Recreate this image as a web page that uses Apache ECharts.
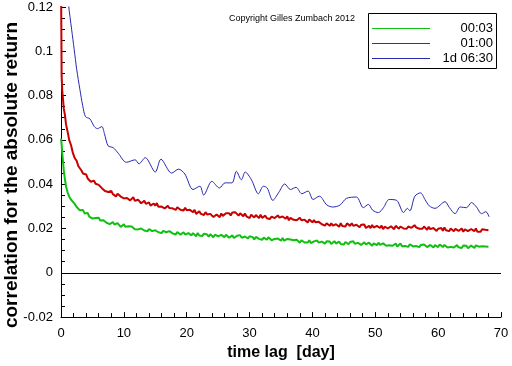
<!DOCTYPE html>
<html><head><meta charset="utf-8">
<script src="https://cdn.jsdelivr.net/npm/echarts@6/dist/echarts.min.js"></script>
<style>html,body{margin:0;padding:0;background:#fff}#c{width:512px;height:366px}</style>
</head><body><div id="c"></div>
<script>
const seriesNames = ['00:03', '01:00', '1d 06:30'];
const seriesColors = ['#10c010', '#c80000', '#2828b0'];
const yTicks = [-0.02, 0, 0.02, 0.04, 0.06, 0.08, 0.1, 0.12];
const xTicks = [0, 10, 20, 30, 40, 50, 60, 70];

// values are in units of 1e-4
const lagHead = [0, 0.1, 0.2, 0.3, 0.45, 0.64, 0.8, 1.06, 1.3, 1.6, 1.9, 2.2];
const greenHead = [606, 580, 540, 510, 460, 420, 390, 362, 345, 330, 320, 310];
const redHead = [1350, 890, 820, 790, 740, 710, 670, 636, 600, 576, 540, 517];
// from lag 2.5 to 68 day, sampled every 0.25 day
const lagTailStart = 2.5, lagTailStep = 0.25;
const greenTail = [
 297,299,282,284,283,268,267,270,254,258,245,253,247,238,249,236,230,237,237,226,
 232,220,226,229,218,214,224,217,207,216,219,208,202,210,202,209,212,197,202,196,
 193,200,202,191,195,187,198,200,188,185,192,196,183,192,179,189,191,183,180,188,
 188,178,183,173,184,182,172,178,183,173,167,179,176,169,179,171,165,180,168,175,
 166,177,168,173,163,174,169,161,172,173,164,159,171,168,161,172,164,158,167,169,
 157,165,167,158,170,158,154,164,161,155,165,157,161,150,162,164,153,158,149,159,
 157,149,160,151,147,156,153,144,155,152,145,157,145,142,153,146,150,141,147,142,
 149,141,136,147,148,137,143,137,147,134,140,142,133,146,136,130,141,139,132,142,
 133,141,130,138,143,132,134,141,130,138,128,139,136,129,139,132,142,131,128,135,
 136,126,133,138,128,125,136,129,122,133,132,125,136,126,122,133,128,122,130,124,
 131,122,125,132,119,128,132,120,126,121,128,117,129,124,119,128,121,126,116,126,
 118,128,123,116,125,126,118,114,125,123,116,128,119,116,126,121,114,123,117,125,
 114,121,125,115,121,112,123,116,122,111,118,123,114,112,124,116,118,110,120,113,
 119,112,118];
const redTail = [
 505,482,481,462,448,449,444,426,426,411,418,416,402,394,397,400,382,382,369,378,
 365,370,370,355,358,345,357,350,344,352,336,344,338,343,327,336,341,325,325,330,
 327,314,321,325,311,313,318,303,312,313,303,315,298,304,299,308,291,300,302,292,
 301,291,294,284,296,297,285,290,281,294,282,275,285,282,273,284,266,274,278,266,
 272,261,274,263,258,266,268,252,260,263,254,251,268,257,264,269,260,269,259,272,
 263,273,265,258,269,264,255,268,255,261,247,262,256,250,261,252,247,262,248,255,
 258,246,253,243,254,257,247,244,259,249,243,254,252,244,255,237,248,251,239,244,
 237,246,249,237,232,240,242,227,241,234,228,238,228,222,230,234,219,224,213,224,
 221,212,223,213,206,219,215,208,224,211,217,209,223,220,212,224,212,205,217,214,
 206,217,208,218,202,210,212,202,216,204,199,212,208,202,213,197,208,211,200,206,
 210,202,197,212,207,199,209,214,200,207,199,209,212,203,198,215,205,211,199,207,
 199,209,203,194,208,197,194,202,205,189,199,195,202,190,205,192,196,188,200,198,
 188,198,202,189,191,200,185,196,197,188,185,198,193,188,200,185,191,185,197,188,
 194,185,192];

const lagBlue = [1.1, 1.2, 1.7, 2.1, 2.5, 3.0, 3.45, 3.9, 4.6, 5.3, 5.8, 6.5, 6.9, 7.5, 8.3, 9.1, 10.4, 11.8, 12.4, 13.4, 15.0, 15.9, 17.6, 18.7, 19.7,
 21.0, 22.1, 22.7, 24.0, 25.2, 26.1, 27.2, 27.9, 28.7, 29.3, 30.3, 31.4, 32.2, 32.8, 33.7, 34.6, 35.6, 36.5, 37.4, 38.3, 39.3, 40.1,
 41.1, 42.3, 43.3, 44.4, 45.4, 47.0, 48.1, 48.9, 49.6, 50.5, 51.3, 52.2, 53.4, 54.5, 55.1, 55.5, 56.3, 57.2, 57.9, 58.6, 59.5,
 61.1, 61.8, 62.7, 63.5, 64.5, 65.3, 66.1, 66.9, 67.6, 68.1];
const blue = [1260, 1210, 1097, 1008, 918, 829, 755, 705, 695, 660, 651, 660, 629, 573, 565, 540, 499, 510, 492, 520, 455, 513, 450, 468, 446,
 376, 391, 351, 413, 383, 406, 406, 458, 420, 455, 420, 357, 391, 383, 327, 361, 401, 376, 386, 357, 369, 331,
 346, 306, 297, 306, 336, 342, 294, 309, 282, 272, 294, 331, 327, 272, 291, 280, 346, 361, 331, 302, 291,
 321, 294, 267, 297, 294, 317, 297, 267, 276, 253];

const UNIT = 1e-4;
const lagTail = redTail.map((_, i) => lagTailStart + i * lagTailStep);
const mk = (lags, vals) => lags.map((x, i) => [x, vals[i] * UNIT]);
const seriesData = [
  mk(lagHead.concat(lagTail), greenHead.concat(greenTail)),
  mk(lagHead.concat(lagTail), redHead.concat(redTail)),
  mk(lagBlue, blue)
];

const FONT = '"Liberation Sans", Arial, sans-serif';
const chart = echarts.init(document.getElementById('c'), null, {renderer: 'canvas'});

const legendGraphics = [{
  id: 'lgbox', type: 'rect', shape: {x: 368.5, y: 13.5, width: 128, height: 55},
  style: {fill: '#fff', stroke: '#000', lineWidth: 1}, z: 100
}];
seriesNames.forEach((n, i) => {
  const y = 28 + i * 15;
  legendGraphics.push({id: 'lgline' + i, type: 'rect', shape: {x: 372, y: y, width: 58, height: 1},
    style: {fill: seriesColors[i], stroke: null}, z: 101});
  legendGraphics.push({id: 'lgtext' + i, type: 'text', x: 493, y: y, z: 101,
    style: {text: n, fill: '#000', font: '13px ' + FONT, textAlign: 'right', textVerticalAlign: 'middle'}});
});

chart.setOption({
  animation: false,
  backgroundColor: '#fff',
  grid: {left: 61, right: 11, top: 7, bottom: 45, containLabel: false},
  xAxis: {
    type: 'value', min: xTicks[0], max: xTicks[xTicks.length - 1], interval: 10,
    name: 'time lag  [day]', nameLocation: 'middle', nameGap: 24,
    nameTextStyle: {fontFamily: FONT, fontSize: 16, color: '#000', fontWeight: 'bold'},
    axisLine: {onZero: false, lineStyle: {color: '#000', width: 1}},
    axisTick: {inside: true, length: 5, lineStyle: {color: '#000'}},
    minorTick: {show: true, splitNumber: 5, length: 4, lineStyle: {color: '#000'}},
    axisLabel: {fontFamily: FONT, fontSize: 13, color: '#000', margin: 10},
    splitLine: {show: false}
  },
  yAxis: {
    type: 'value', min: yTicks[0], max: yTicks[yTicks.length - 1], interval: 0.02,
    axisLine: {show: true, onZero: false, lineStyle: {color: '#000', width: 1}},
    axisTick: {show: true, inside: true, length: 5, lineStyle: {color: '#000'}},
    minorTick: {show: true, splitNumber: 4, length: 4, lineStyle: {color: '#000'}},
    axisLabel: {fontFamily: FONT, fontSize: 13, color: '#000', margin: 8,
      formatter: v => String(Math.round(v * 100) / 100)},
    splitLine: {show: false}
  },
  series: seriesData.map((d, i) => ({
    name: seriesNames[i], type: 'line', data: d, showSymbol: false, symbol: 'none',
    smooth: i === 2 ? 0.3 : false, clip: true,
    lineStyle: {color: seriesColors[i], width: i === 2 ? 1 : 2},
    z: 3 - i,
    markLine: i === 0 ? {silent: true, symbol: 'none', label: {show: false},
      lineStyle: {color: '#000', width: 1, type: 'solid'}, data: [{yAxis: 0}]} : undefined
  })),
  graphic: [
    {id: 'ylab', type: 'text', x: 12, y: 175, rotation: Math.PI / 2, z: 100,
      style: {text: 'correlation for the absolute return', fill: '#000',
        font: 'bold 19px ' + FONT, textAlign: 'center', textVerticalAlign: 'middle'}},
    {id: 'copy', type: 'text', x: 292, y: 19, z: 100,
      style: {text: 'Copyright Gilles Zumbach 2012', fill: '#000',
        font: '9px ' + FONT, textAlign: 'center', textVerticalAlign: 'middle'}}
  ].concat(legendGraphics)
});
</script></body></html>
